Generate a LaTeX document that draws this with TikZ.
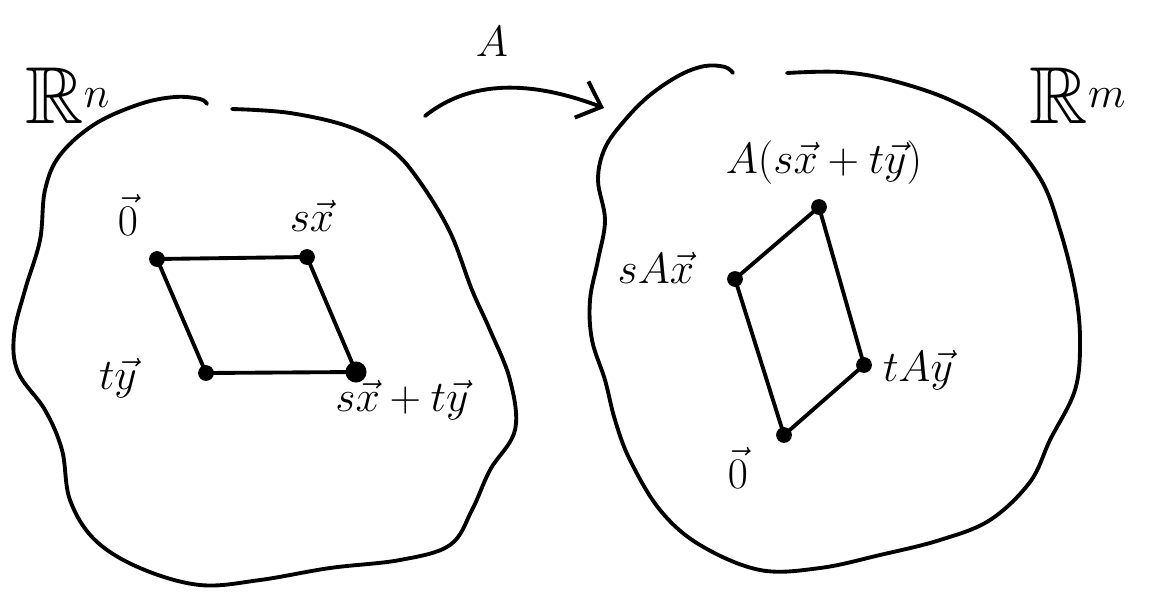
\documentclass[tikz,border=0pt]{standalone}
\usepackage{amssymb}
\usetikzlibrary{arrows.meta}
\tikzset{
  pen/.style={line width=2.2pt, line cap=round, line join=round},
  dot/.style={circle, fill=black, inner sep=0pt, minimum size=9pt},
  lbl/.style={font=\fontsize{24}{28}\selectfont},
  big/.style={font=\fontsize{46}{50}\selectfont},
}
\begin{document}
\begin{tikzpicture}[x=0.02cm,y=-0.02cm]
\useasboundingbox (0,0) rectangle (1149,596);
% left blob
\draw[pen] plot[smooth, tension=0.6] coordinates {(207,104) (200,99) (175,97) (140,104) (95,124) (60,155) (45,190) (40,240) (25,290) (14,335) (18,372) (45,410) (62,450) (70,500) (95,540) (140,568) (200,585) (260,580) (330,568) (400,560) (450,545) (472,510) (490,470) (515,430) (510,380) (490,330) (472,290) (450,232) (420,182) (392,150) (350,127) (290,113) (232,109)};
% right blob
\draw[pen] plot[smooth, tension=0.6] coordinates {(733,73) (725,67) (705,66) (680,75) (650,95) (625,120) (605,148) (598,180) (605,220) (598,260) (590,300) (592,340) (605,380) (615,420) (630,460) (660,510) (700,545) (760,570) (820,568) (880,555) (940,540) (990,520) (1030,482) (1050,440) (1075,390) (1080,340) (1075,290) (1060,230) (1040,178) (1000,130) (950,100) (890,80) (840,72) (787,73)};
% arrow A
\coordinate (as) at (425,116);
\coordinate (ae) at (604,108);
\draw[pen, -{Straight Barb[length=12pt, width=22pt, line width=2.2pt]}] (as) .. controls (470,80) and (530,80) .. (ae);
\node[big, font=\fontsize{40}{44}\selectfont] (A) at (492,42) {$A$};
\node[big] (Rn) at (68,96) {$\mathbb{R}^n$};
\node[big] (Rm) at (1078,96) {$\mathbb{R}^m$};
% left parallelogram
\node[dot] (l0) at (157,259) {};
\node[dot] (lx) at (307,257) {};
\node[dot, minimum size=12pt] (lxy) at (356,372) {};
\node[dot] (ly) at (206,373) {};
\draw[pen] (l0.center) -- (lx.center) -- (lxy.center) -- (ly.center) -- cycle;
\node[lbl] at (128,215) {$\vec 0$};
\node[lbl] at (312,216) {$s\vec x$};
\node[lbl] at (118,378) {$t\vec y$};
\node[lbl] at (402,400) {$s\vec x+t\vec y$};
% right parallelogram
\node[dot] (r0) at (784,435) {};
\node[dot] (rx) at (735,279) {};
\node[dot] (rxy) at (819,207) {};
\node[dot] (ry) at (864,365) {};
\draw[pen] (r0.center) -- (rx.center) -- (rxy.center) -- (ry.center) -- cycle;
\node[lbl] at (824,163) {$A(s\vec x+t\vec y)$};
\node[lbl] at (656,268) {$sA\vec x$};
\node[lbl] at (918,370) {$tA\vec y$};
\node[lbl] at (738,468) {$\vec 0$};
\end{tikzpicture}
\end{document}
